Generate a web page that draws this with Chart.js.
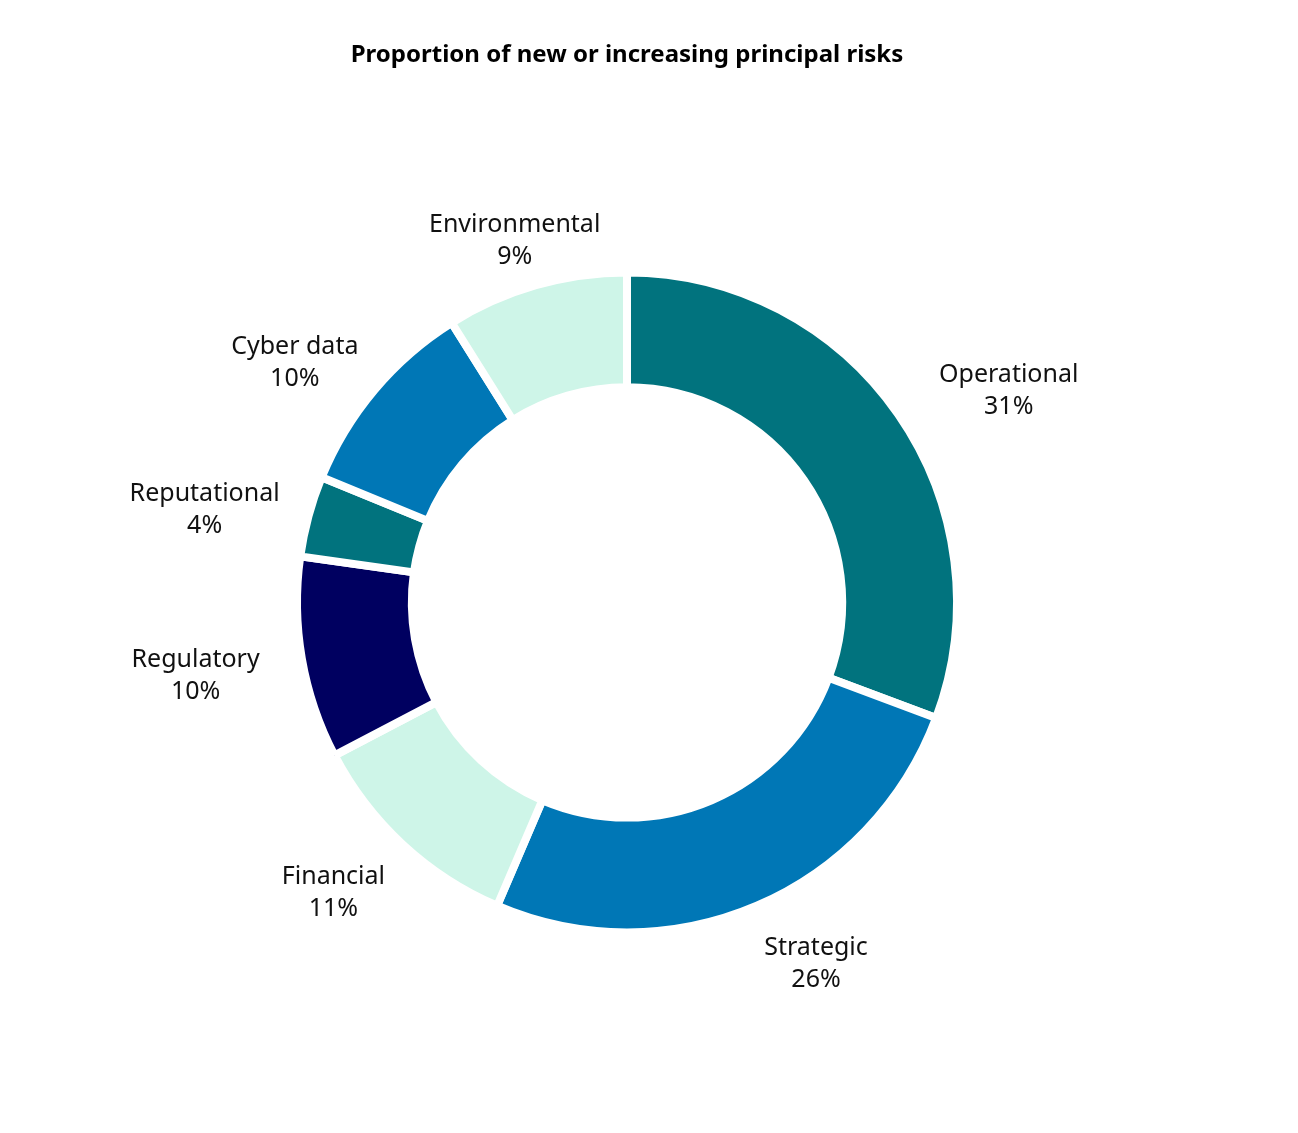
<!DOCTYPE html>
<html>
<head>
<meta charset="utf-8">
<script src="https://cdn.jsdelivr.net/npm/chart.js@4.4.1/dist/chart.umd.min.js"></script>
<style>
  html, body { margin: 0; padding: 0; background: #fff; }
  #wrap { width: 1298px; height: 1133px; }
</style>
</head>
<body>
<div id="wrap"><canvas id="riskChart" width="1298" height="1133"></canvas></div>
<script>
const categorias = ["Operational", "Strategic", "Financial", "Regulatory", "Reputational", "Cyber data", "Environmental"];
const porcentajes = [31, 26, 11, 10, 4, 10, 9];
const colores = ["#01737e", "#0077b6", "#cef5e8", "#000060", "#01737e", "#0077b6", "#cef5e8"];

const FUENTE = "'Noto Sans', 'Open Sans', sans-serif";

// etiquetas fuera del anillo: nombre + porcentaje, sobre una elipse alrededor del anillo
const etiquetasExternas = {
  id: "etiquetasExternas",
  afterDatasetsDraw(chart) {
    const ctx = chart.ctx;
    const meta = chart.getDatasetMeta(0);
    const lineH = 32;
    ctx.save();
    ctx.font = `25px ${FUENTE}`;
    ctx.fillStyle = "#111";
    ctx.textAlign = "center";
    ctx.textBaseline = "middle";
    meta.data.forEach((arc, i) => {
      const p = arc.getProps(["x", "y", "startAngle", "endAngle", "outerRadius"], true);
      const mid = (p.startAngle + p.endAngle) / 2;
      const rx = p.outerRadius + 120;
      const ry = p.outerRadius + 55;
      const cx = p.x + 12 + Math.cos(mid) * rx;
      const cy = p.y + 8 + Math.sin(mid) * ry;
      ctx.fillText(categorias[i], cx, cy - lineH / 2);
      ctx.fillText(porcentajes[i] + "%", cx, cy + lineH / 2);
    });
    ctx.restore();
  }
};

new Chart(document.getElementById("riskChart"), {
  type: "doughnut",
  data: {
    labels: categorias,
    datasets: [{
      data: porcentajes,
      backgroundColor: colores,
      borderColor: "#ffffff",
      borderWidth: 8,
      hoverOffset: 0
    }]
  },
  options: {
    responsive: false,
    animation: false,
    radius: 330,
    cutout: "65.2%",
    layout: { padding: { left: 280, right: 324, top: 0, bottom: 15 } },
    plugins: {
      legend: { display: false },
      tooltip: { enabled: false },
      title: {
        display: true,
        text: "Proportion of new or increasing principal risks",
        color: "#000",
        font: { family: FUENTE, size: 24, weight: "bold" },
        padding: { top: 41, bottom: 17 }
      }
    }
  },
  plugins: [etiquetasExternas]
});
</script>
</body>
</html>
